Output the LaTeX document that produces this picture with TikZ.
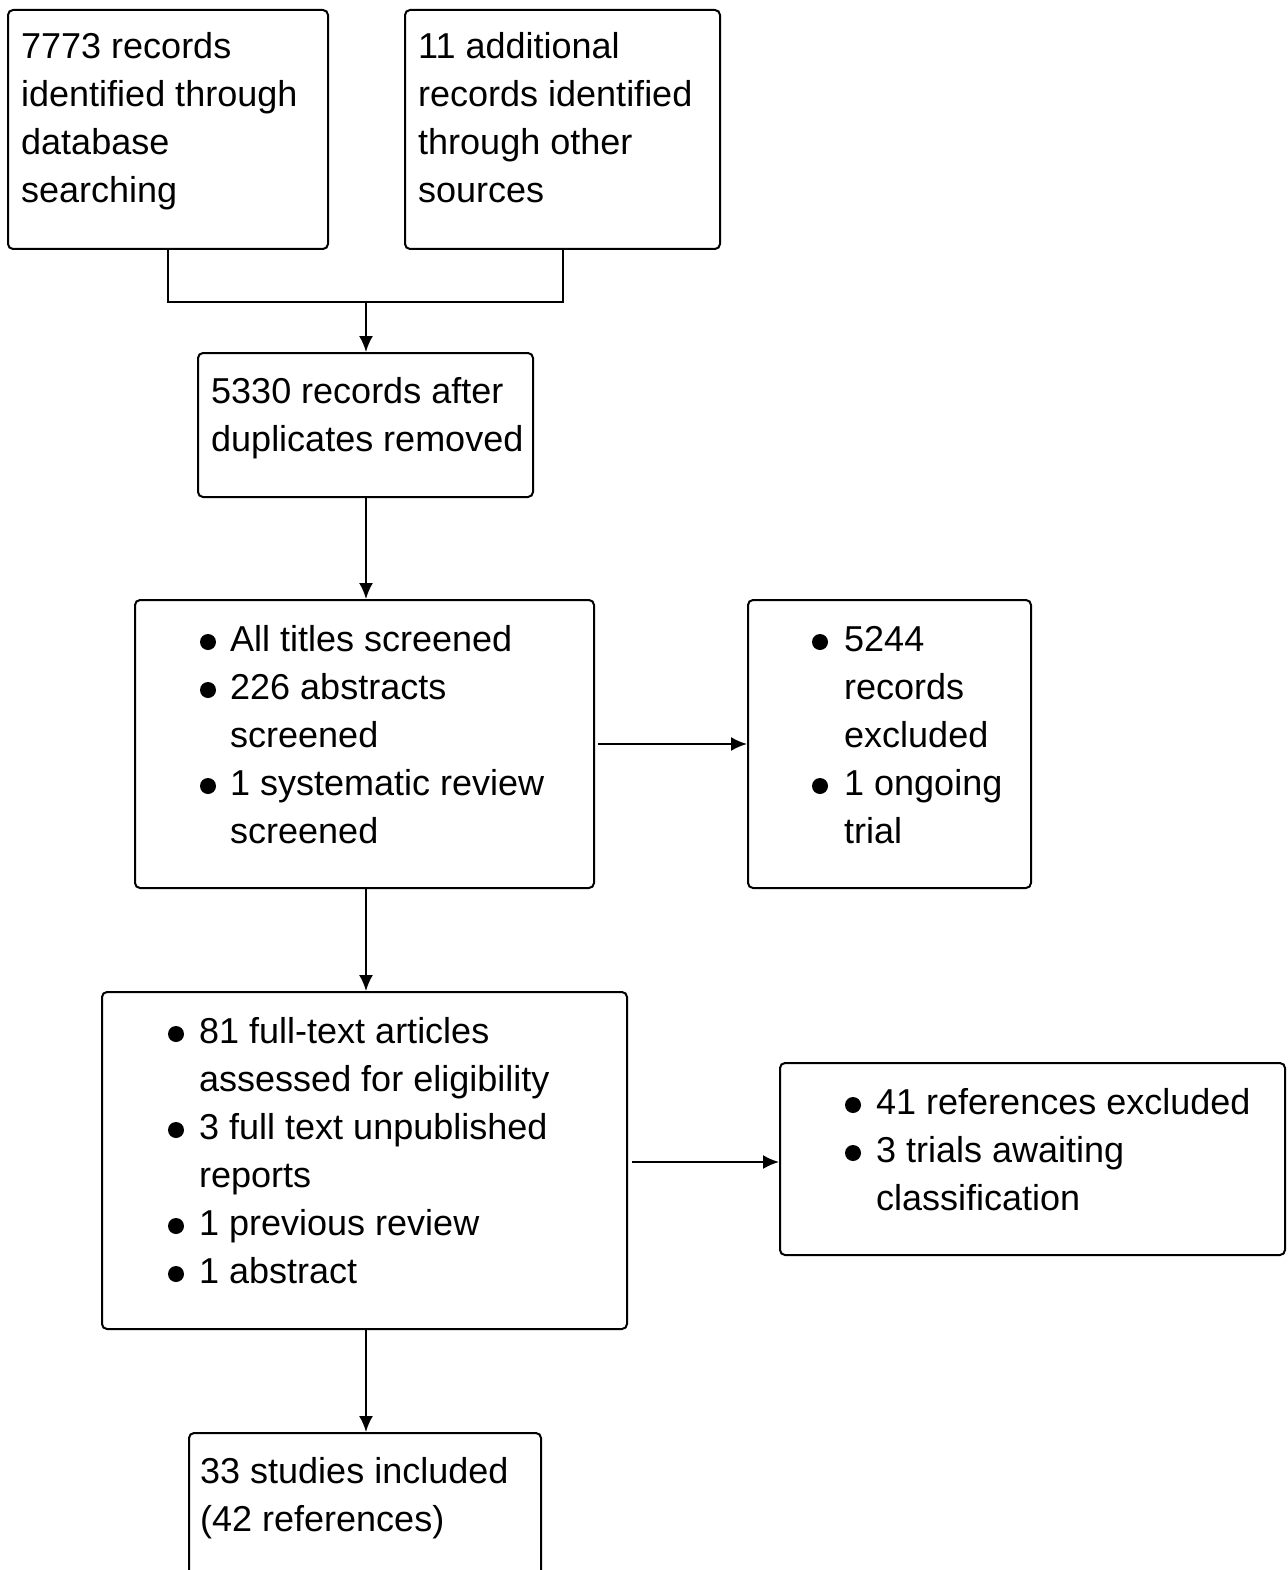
\documentclass[tikz,border=0pt]{standalone}
\usepackage{fontspec}
\setmainfont{Liberation Sans}
\usetikzlibrary{arrows.meta}
\tikzset{
  x=1pt,y=-1pt,
  box/.style={draw, line width=2pt, rounded corners=5pt, inner sep=0pt},
  txt/.style={anchor=north west, inner sep=0pt, align=left, font=\fontsize{36}{48}\selectfont},
  conn/.style={line width=2pt},
  arr/.style={conn, -{Latex[length=16pt,width=14pt]}},
}
\newcommand\mkbox[5]{\node[box, minimum width={#4-#2}, minimum height={#5-#3}] (#1) at ({(#2+#4)/2},{(#3+#5)/2}) {};}
\newcommand\fr{\rule{0pt}{30pt}}
\newcommand\blt[2]{\fill (#1,#2) circle[radius=8pt];}
\begin{document}
\begin{tikzpicture}
\useasboundingbox (0,0) rectangle (1287,1570);
\clip (0,0) rectangle (1287,1570);
% boxes
\mkbox{A}{8}{10}{328}{249}
\mkbox{B}{405}{10}{720}{249}
\mkbox{C}{198}{353}{533}{497}
\mkbox{D}{135}{600}{594}{888}
\mkbox{E}{748}{600}{1031}{888}
\mkbox{F}{102}{992}{627}{1329}
\mkbox{G}{780}{1063}{1285}{1255}
\mkbox{H}{189}{1433}{541}{1620}
% texts
\node[txt] (At) at (21,28) {\fr7773 records\\identified through\\database\\searching};
\node[txt] (Bt) at (418,28) {\fr11 additional\\records identified\\through other\\sources};
\node[txt] (Ct) at (211,373) {\fr5330 records after\\duplicates removed};
\node[txt] (Dt) at (230,621) {\fr All titles screened\\226 abstracts\\screened\\1 systematic review\\screened};
\node[txt] (Et) at (844,621) {\fr5244\\records\\excluded\\1 ongoing\\trial};
\node[txt] (Ft) at (199,1013) {\fr81 full-text articles\\assessed for eligibility\\3 full text unpublished\\reports\\1 previous review\\1 abstract};
\node[txt] (Gt) at (876,1084) {\fr41 references excluded\\3 trials awaiting\\classification};
\node[txt] (Ht) at (200,1453) {\fr33 studies included\\(42 references)};
% bullets
\blt{208}{642}\blt{208}{690}\blt{208}{786}
\blt{820}{642}\blt{820}{786}
\blt{176}{1034}\blt{176}{1130}\blt{176}{1226}\blt{176}{1274}
\blt{853}{1105}\blt{853}{1153}
% connectors
\coordinate (J) at (366,302);
\draw[conn] (A.south) |- (J) -| (B.south);
\draw[arr] (J) -- (J |- C.north);
\draw[arr] (C.south -| J) -- (D.north -| J);
\draw[arr] (D.south -| J) -- (F.north -| J);
\draw[arr] (F.south -| J) -- (H.north -| J);
\draw[arr] ([xshift=3pt]D.east) -- (E.west);
\coordinate (Fe) at ([xshift=4pt,yshift=-1.5pt]F.east);
\draw[arr] (Fe) -- (Fe -| G.west);
\end{tikzpicture}
\end{document}
